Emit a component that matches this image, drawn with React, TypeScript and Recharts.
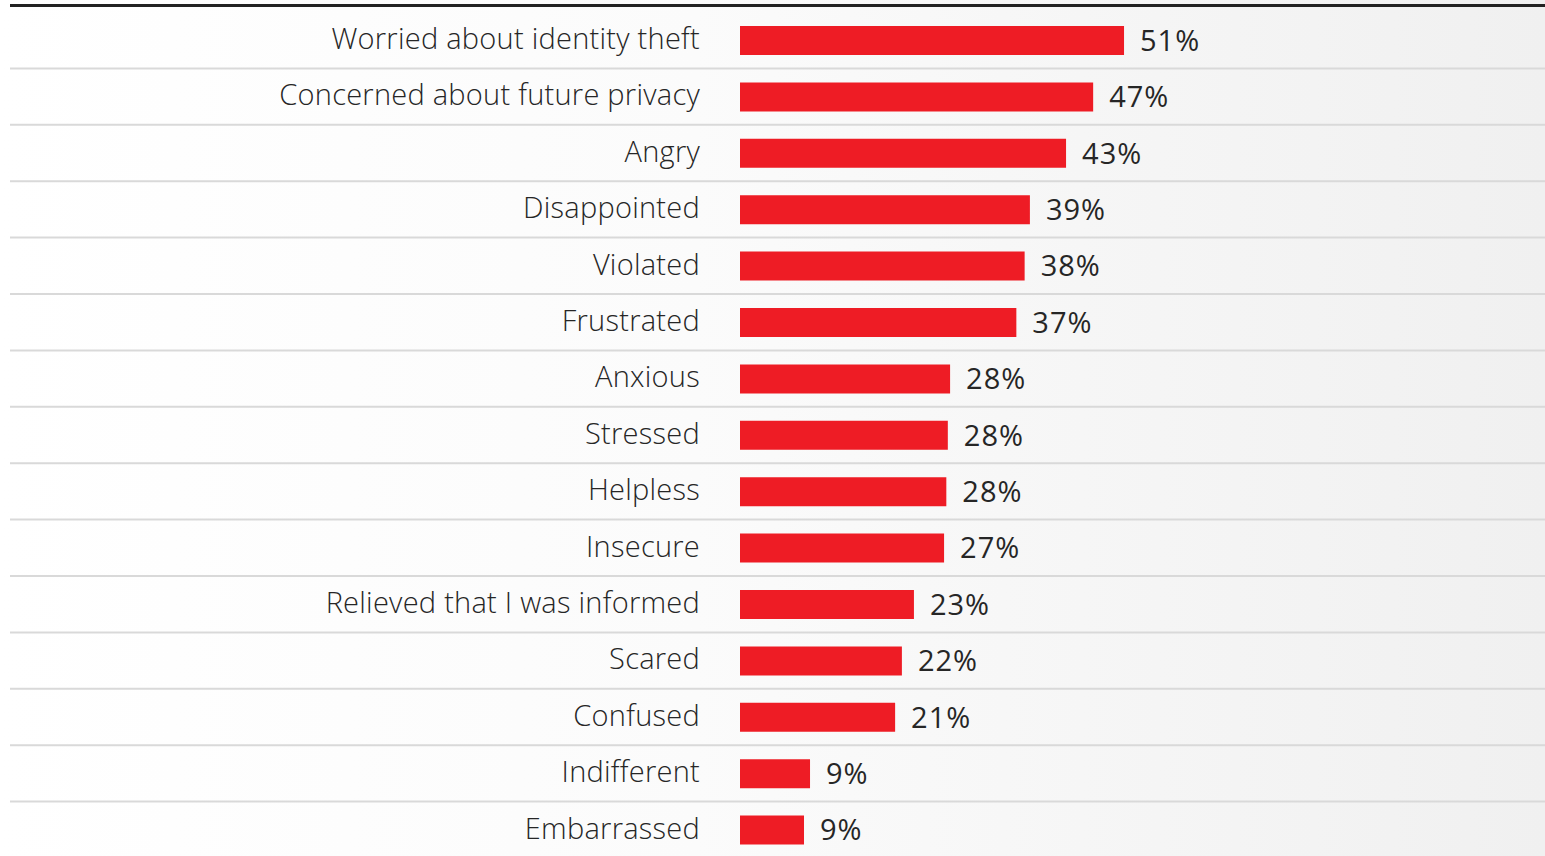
import React from 'react';
import { BarChart, Bar, XAxis, YAxis, LabelList } from 'recharts';

const feelings = [
  'Worried about identity theft',
  'Concerned about future privacy',
  'Angry',
  'Disappointed',
  'Violated',
  'Frustrated',
  'Anxious',
  'Stressed',
  'Helpless',
  'Insecure',
  'Relieved that I was informed',
  'Scared',
  'Confused',
  'Indifferent',
  'Embarrassed',
];

// bar lengths; labels show the rounded figure
const shares = [51, 46.9, 43.3, 38.5, 37.8, 36.7, 27.9, 27.6, 27.4, 27.1, 23.1, 21.5, 20.6, 9.3, 8.5];
const shownPct = [51, 47, 43, 39, 38, 37, 28, 28, 28, 27, 23, 22, 21, 9, 9];

const data = feelings.map((name, i) => ({ name, value: shares[i], shown: shownPct[i] }));

const W = 1545;
const H = 858;
const TOP = 12;
const BAND = (H - TOP) / feelings.length;
const FONT = '"Open Sans", Roboto, sans-serif';

const FeelingTick = (props: any) => {
  const { x, y, payload, index } = props;
  return (
    <g>
      {index < feelings.length - 1 && (
        <line x1={10} x2={W} y1={y + BAND / 2} y2={y + BAND / 2} stroke="#d9d9d9" strokeWidth={2} />
      )}
      <text
        x={x}
        y={y}
        dy="0.3em"
        textAnchor="end"
        fill="#262626"
        fontSize={29}
        fontWeight={300}
        letterSpacing={0.25}
        fontFamily={FONT}
      >
        {payload.value}
      </text>
    </g>
  );
};

export default function App() {
  return (
    <div
      style={{
        position: 'absolute',
        left: 0,
        top: 0,
        width: W,
        height: 856,
        overflow: 'hidden',
        background: 'linear-gradient(to right, #ffffff 0%, #fbfbfb 45%, #f0f0f0 100%)',
      }}
    >
      <div
        style={{ position: 'absolute', left: 10, right: 0, top: 4, height: 3, background: '#222' }}
      />
      <BarChart
        width={W}
        height={H}
        data={data}
        layout="vertical"
        margin={{ top: TOP, right: 52, bottom: 0, left: 0 }}
        barCategoryGap={0}
      >
        <XAxis type="number" domain={[0, 100]} hide />
        <YAxis
          type="category"
          dataKey="name"
          width={740}
          axisLine={false}
          tickLine={false}
          tickSize={0}
          tickMargin={40}
          interval={0}
          tick={<FeelingTick />}
        />
        <Bar dataKey="value" fill="#ee1c25" barSize={29} isAnimationActive={false}>
          <LabelList
            dataKey="shown"
            position="right"
            offset={16}
            formatter={(v: any) => `${v}%`}
            fill="#262626"
            fontSize={29}
            letterSpacing={1}
            fontFamily={FONT}
          />
        </Bar>
      </BarChart>
    </div>
  );
}
